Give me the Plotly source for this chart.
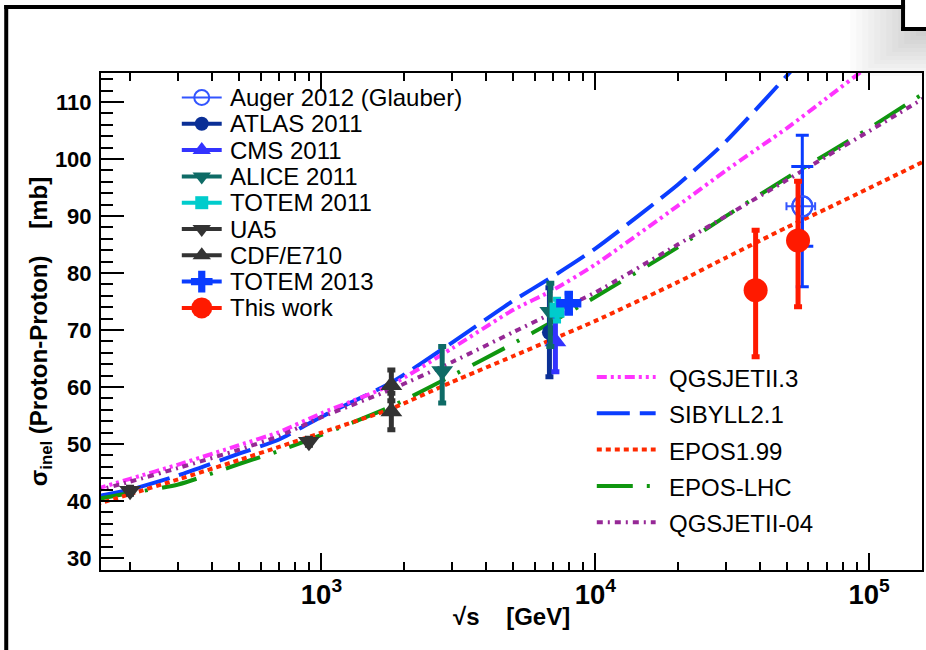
import plotly.graph_objects as go

# ---------------------------------------------------------------------------
# Canvas and plotting-area geometry (pixels)
CANVAS_W, CANVAS_H = 926, 650
AREA_L, AREA_R, AREA_T, AREA_B = 101, 924, 73, 570

X_RANGE_LOG = [2.195, 5.193]      # log10(sqrt(s)/GeV)
Y_RANGE = [27.9, 115.1]           # mb

FONT = "Liberation Sans, Arial, Helvetica, sans-serif"

# ---------------------------------------------------------------------------
# Model predictions: sqrt(s) [GeV] -> sigma_inel [mb]
sqrt_s_model = [150, 200, 300, 500, 700, 1000, 1800, 3000, 5000, 7000,
                10000, 20000, 30000, 50000, 70000, 100000, 160000]
qgsjet2_3 = [42.1, 43.9, 46.4, 49.8, 52.1, 55.4, 60.4, 66.8, 73.5, 77.0,
             81.5, 91.8, 98.0, 105.4, 110.7, 116.4, 124.0]
sibyll2_1 = [40.8, 42.0, 44.5, 48.3, 50.8, 54.8, 60.8, 67.8, 75.1, 79.4,
             84.3, 95.5, 103.1, 114.6, 122.5, 131.0, 143.0]
epos1_99 = [39.4, 41.2, 43.8, 47.2, 49.5, 52.0, 56.2, 60.9, 65.4, 68.4,
            71.6, 78.4, 82.7, 88.0, 91.3, 94.9, 99.7]
epos_lhc = [40.3, 41.4, 42.9, 46.5, 48.8, 51.6, 56.6, 62.0, 67.6, 71.5,
            75.8, 84.5, 90.0, 96.7, 100.9, 105.4, 111.7]
qgsjet2_04 = [41.8, 43.4, 45.8, 49.0, 51.4, 54.7, 59.6, 64.4, 69.6, 73.0,
              76.6, 85.0, 90.0, 96.3, 100.5, 104.9, 110.8]

# ---------------------------------------------------------------------------
# Measurements
ua5_sqrt_s = [200, 900]
ua5_sigma = [41.8, 50.4]
ua5_err = [0.6, 0.6]

cdf_sqrt_s = [1800, 1800]
cdf_sigma = [60.3, 55.7]
cdf_err = [2.7, 3.2]

alice_sqrt_s = [2760, 6850]
alice_sigma = [62.8, 73.2]
alice_err_up = [4.3, 5.0]
alice_err_dn = [5.6, 6.1]

atlas_sqrt_s = [6800]
atlas_sigma = [69.6]
atlas_err = [7.8]

cms_sqrt_s = [7150]
cms_sigma = [68.0]
cms_err = [5.3]

totem11_sqrt_s = [7250]
totem11_sigma = [73.5]
totem11_err = [1.9]

totem13_sqrt_s = [8000]
totem13_sigma = [74.7]
totem13_err = [1.7]

auger_sqrt_s = [57000]
auger_sigma = [91.7]
auger_stat = [7.0]
auger_tot_up = [12.5]
auger_tot_dn = [14.1]
auger_sqrt_s_up = [6500]
auger_sqrt_s_dn = [7100]

this_sqrt_s = [38500, 55000]
this_sigma = [77.0, 85.7]
this_err_up = [10.5, 10.4]
this_err_dn = [11.7, 11.6]

# ---------------------------------------------------------------------------
# Styles
C_AUGER = "#3355ff"
C_ATLAS = "#0a2f96"
C_CMS = "#3333ff"
C_ALICE = "#0e6b66"
C_TOTEM11 = "#00cccc"
C_GREY = "#333333"
C_TOTEM13 = "#0a3cff"
C_THIS = "#ff1a00"

models = [
    ("QGSJETII.3", qgsjet2_3, "#ff33ff", "10px,4px,3px,4px,3px,4px"),
    ("SIBYLL2.1", sibyll2_1, "#0b3dff", "33px,10px"),
    ("EPOS1.99", epos1_99, "#ff2a00", "5px,4px"),
    ("EPOS-LHC", epos_lhc, "#0f960f", "36px,14px,3px,14px"),
    ("QGSJETII-04", qgsjet2_04, "#962896", "6px,5px,2px,5px"),
]
model_draw_order = ["SIBYLL2.1", "QGSJETII.3", "EPOS-LHC", "QGSJETII-04", "EPOS1.99"]

fig = go.Figure()

# Model curves
model_by_name = {m[0]: m for m in models}
for name in model_draw_order:
    _, vals, color, dash = model_by_name[name]
    fig.add_trace(go.Scatter(
        x=sqrt_s_model, y=vals, mode="lines", name=name,
        line=dict(color=color, width=4, dash=dash, shape="spline", smoothing=0.6),
        hoverinfo="skip", showlegend=False))


def add_points(name, x, y, symbol, size, color, up, down=None,
               thick=5, cap=4, open_width=0):
    fig.add_trace(go.Scatter(
        x=x, y=y, mode="markers", name=name, showlegend=False,
        marker=dict(symbol=symbol, size=size, color=color,
                    line=dict(width=open_width, color=color)),
        error_y=dict(type="data", symmetric=False, array=up,
                     arrayminus=down if down is not None else up,
                     color=color, thickness=thick, width=cap)))


add_points("ATLAS 2011", atlas_sqrt_s, atlas_sigma, "circle", 15, C_ATLAS, atlas_err)
add_points("CMS 2011", cms_sqrt_s, cms_sigma, "triangle-up", 19, C_CMS, cms_err)
add_points("ALICE 2011", alice_sqrt_s, alice_sigma, "triangle-down", 19, C_ALICE,
           alice_err_up, alice_err_dn)
add_points("TOTEM 2011", totem11_sqrt_s, totem11_sigma, "square", 15, C_TOTEM11, totem11_err)
add_points("UA5", ua5_sqrt_s, ua5_sigma, "triangle-down", 19, C_GREY, ua5_err)
add_points("CDF/E710", cdf_sqrt_s, cdf_sigma, "triangle-up", 19, C_GREY, cdf_err)
add_points("TOTEM 2013", totem13_sqrt_s, totem13_sigma, "cross", 21, C_TOTEM13, totem13_err,
           thick=4)

# Auger: total uncertainty, statistical uncertainty and energy uncertainty
fig.add_trace(go.Scatter(
    x=auger_sqrt_s, y=auger_sigma, mode="markers", name="Auger 2012 (Glauber)",
    showlegend=False,
    marker=dict(symbol="circle-open", size=20, color=C_AUGER, line=dict(width=2, color=C_AUGER)),
    error_y=dict(type="data", symmetric=False, array=auger_tot_up, arrayminus=auger_tot_dn,
                 color=C_TOTEM13, thickness=3, width=6.5),
    error_x=dict(type="data", symmetric=False, array=auger_sqrt_s_up,
                 arrayminus=auger_sqrt_s_dn, color=C_AUGER, thickness=2, width=4)))
fig.add_trace(go.Scatter(
    x=auger_sqrt_s, y=auger_sigma, mode="markers", showlegend=False,
    marker=dict(symbol="circle-open", size=20, color=C_AUGER, line=dict(width=2, color=C_AUGER)),
    error_y=dict(type="data", array=auger_stat, color=C_TOTEM13, thickness=3, width=11)))

add_points("This work", this_sqrt_s, this_sigma, "circle", 24, C_THIS,
           this_err_up, this_err_dn, thick=5, cap=4)

# ---------------------------------------------------------------------------
# Legend boxes, drawn on a pixel-unit overlay axis
data_legend = [
    ("Auger 2012 (Glauber)", "circle-open", 15, C_AUGER, 2),
    ("ATLAS 2011", "circle", 14, C_ATLAS, 4),
    ("CMS 2011", "triangle-up", 16, C_CMS, 4),
    ("ALICE 2011", "triangle-down", 16, C_ALICE, 4),
    ("TOTEM 2011", "square", 13, C_TOTEM11, 4),
    ("UA5", "triangle-down", 16, C_GREY, 4),
    ("CDF/E710", "triangle-up", 16, C_GREY, 4),
    ("TOTEM 2013", "cross", 18, C_TOTEM13, 4),
    ("This work", "circle", 21, C_THIS, 4),
]
LEG1_X0, LEG1_X1, LEG1_TX, LEG1_Y0, LEG1_DY = 182, 222, 228, 97.5, 26.3
LEG2_X0, LEG2_X1, LEG2_TX, LEG2_Y0, LEG2_DY = 598, 657, 668, 377, 36.3
LEG_FONT = dict(family=FONT, size=24, color="black")

annotations = []
for i, (label, symbol, size, color, lw) in enumerate(data_legend):
    yc = LEG1_Y0 + i * LEG1_DY
    fig.add_trace(go.Scatter(
        x=[LEG1_X0, LEG1_X1], y=[yc, yc], mode="lines", xaxis="x2", yaxis="y2",
        line=dict(color=color, width=lw), showlegend=False, hoverinfo="skip"))
    fig.add_trace(go.Scatter(
        x=[(LEG1_X0 + LEG1_X1) / 2], y=[yc], mode="markers", xaxis="x2", yaxis="y2",
        marker=dict(symbol=symbol, size=size, color=color,
                    line=dict(width=2 if symbol.endswith("open") else 0, color=color)),
        showlegend=False, hoverinfo="skip"))
    annotations.append(dict(x=LEG1_TX, y=yc, xref="x2", yref="y2", text=label,
                            showarrow=False, xanchor="left", yanchor="middle",
                            font=LEG_FONT))

for i, (label, _, color, dash) in enumerate(models):
    yc = LEG2_Y0 + i * LEG2_DY
    fig.add_trace(go.Scatter(
        x=[LEG2_X0, LEG2_X1], y=[yc, yc], mode="lines", xaxis="x2", yaxis="y2",
        line=dict(color=color, width=4, dash=dash), showlegend=False, hoverinfo="skip"))
    annotations.append(dict(x=LEG2_TX, y=yc + 1.5, xref="x2", yref="y2", text=label,
                            showarrow=False, xanchor="left", yanchor="middle",
                            font=LEG_FONT))


# ---------------------------------------------------------------------------
# Helpers to place page decorations in pixel coordinates
def px_x(px):
    return (px - AREA_L) / (AREA_R - AREA_L)


def px_y(py):
    return (AREA_B - py) / (AREA_B - AREA_T)


TITLE_FONT = dict(family=FONT, size=24, color="black", weight="bold")
annotations.append(dict(x=px_x(512), y=px_y(616), xref="paper", yref="paper",
                        text="\u221as\u00a0\u00a0\u00a0\u00a0[GeV]", showarrow=False,
                        xanchor="center", yanchor="middle", font=TITLE_FONT))
annotations.append(dict(x=px_x(40), y=px_y(332), xref="paper", yref="paper",
                        text="\u03c3<sub>inel</sub> (Proton-Proton)\u00a0\u00a0\u00a0\u00a0[mb]",
                        textangle=-90, showarrow=False,
                        xanchor="center", yanchor="middle", font=TITLE_FONT))

shapes = []
# soft page shadow in the upper right corner (stacked translucent layers)
for k in range(12):
    shapes.append(dict(type="rect", xref="paper", yref="paper",
                       x0=px_x(852 + 6 * k), x1=px_x(930), y0=px_y(9), y1=px_y(80 - 4 * k),
                       fillcolor="rgba(0,0,0,0.016)", line=dict(width=0), layer="below"))
# white corner box
shapes.append(dict(type="rect", xref="paper", yref="paper",
                   x0=px_x(905), x1=px_x(930), y0=px_y(-2), y1=px_y(29),
                   fillcolor="white", line=dict(width=0), layer="below"))
# black page border
BLACK = "black"
shapes += [
    dict(type="line", xref="paper", yref="paper", x0=px_x(6), x1=px_x(6),
         y0=px_y(5), y1=px_y(655), line=dict(color=BLACK, width=4)),
    dict(type="line", xref="paper", yref="paper", x0=px_x(4), x1=px_x(907),
         y0=px_y(7), y1=px_y(7), line=dict(color=BLACK, width=4)),
    dict(type="line", xref="paper", yref="paper", x0=px_x(905), x1=px_x(905),
         y0=px_y(-2), y1=px_y(31), line=dict(color=BLACK, width=4)),
    dict(type="line", xref="paper", yref="paper", x0=px_x(903), x1=px_x(930),
         y0=px_y(29), y1=px_y(29), line=dict(color=BLACK, width=4)),
]

TICK_FONT = dict(family=FONT, size=22, color="black", weight="bold")

fig.update_layout(
    width=CANVAS_W, height=CANVAS_H, autosize=False,
    margin=dict(l=AREA_L, r=CANVAS_W - AREA_R, t=AREA_T, b=CANVAS_H - AREA_B, pad=0),
    paper_bgcolor="white", plot_bgcolor="white", showlegend=False,
    xaxis=dict(type="log", range=X_RANGE_LOG, dtick=1, exponentformat="power",
               showgrid=False, zeroline=False,
               ticks="inside", ticklen=17, tickwidth=1.5, tickcolor="black",
               minor=dict(ticks="inside", ticklen=8, tickwidth=1.5, tickcolor="black",
                          dtick="D1", showgrid=False),
               showline=True, linecolor="black", linewidth=2, mirror="ticks",
               tickfont=TICK_FONT, ticklabelstandoff=0),
    yaxis=dict(range=Y_RANGE, tick0=0, dtick=10, showgrid=False, zeroline=False,
               ticks="inside", ticklen=23, tickwidth=1.5, tickcolor="black",
               minor=dict(ticks="inside", ticklen=12, tickwidth=1.5, tickcolor="black",
                          dtick=2, showgrid=False),
               showline=True, linecolor="black", linewidth=2, mirror=True,
               tickfont=TICK_FONT, ticklabelstandoff=3),
    xaxis2=dict(overlaying="x", anchor="y2", range=[AREA_L, AREA_R], visible=False,
                fixedrange=True),
    yaxis2=dict(overlaying="y", anchor="x2", range=[AREA_B, AREA_T], visible=False,
                fixedrange=True),
    annotations=annotations,
    shapes=shapes,
)

fig.write_html("out.html")
